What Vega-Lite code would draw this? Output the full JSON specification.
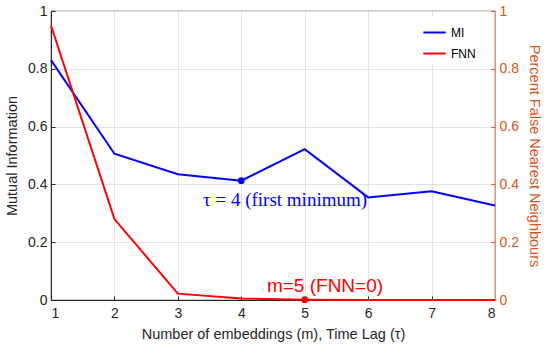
{
  "$schema": "https://vega.github.io/schema/vega-lite/v6.json",
  "width": 444,
  "height": 289,
  "autosize": {"type": "none"},
  "padding": {"left": 51, "top": 11, "right": 55, "bottom": 53},
  "background": "white",
  "config": {
    "font": "Liberation Sans",
    "view": {"stroke": "#262626", "strokeWidth": 0.6},
    "axis": {
      "labelFont": "Liberation Sans",
      "titleFont": "Liberation Sans",
      "labelFontSize": 14,
      "titleFontSize": 14.5,
      "titleFontWeight": "normal",
      "labelColor": "#262626",
      "titleColor": "#262626",
      "gridColor": "#e3e3e3",
      "domainColor": "#262626",
      "tickColor": "#262626"
    }
  },
  "datasets": {
    "series": [
      {"x": 1, "series": "MI", "value": 0.83},
      {"x": 2, "series": "MI", "value": 0.506},
      {"x": 3, "series": "MI", "value": 0.435},
      {"x": 4, "series": "MI", "value": 0.413},
      {"x": 5, "series": "MI", "value": 0.522},
      {"x": 6, "series": "MI", "value": 0.355},
      {"x": 7, "series": "MI", "value": 0.376},
      {"x": 8, "series": "MI", "value": 0.327},
      {"x": 1, "series": "FNN", "value": 0.95},
      {"x": 2, "series": "FNN", "value": 0.28},
      {"x": 3, "series": "FNN", "value": 0.022},
      {"x": 4, "series": "FNN", "value": 0.005},
      {"x": 5, "series": "FNN", "value": 0.001},
      {"x": 6, "series": "FNN", "value": 0.0},
      {"x": 7, "series": "FNN", "value": 0.0},
      {"x": 8, "series": "FNN", "value": 0.0}
    ]
  },
  "layer": [
    {
      "data": {"name": "series"},
      "transform": [{"filter": "datum.series === 'MI'"}],
      "layer": [
        {
          "mark": {"type": "line", "strokeWidth": 2},
          "encoding": {
            "x": {"field": "x", "type": "quantitative", "scale": {"domain": [1, 8], "nice": false},
              "axis": {"values": [1,2,3,4,5,6,7,8], "format": "d", "title": "Number of embeddings (m), Time Lag (τ)", "tickSize": -4, "labelPadding": 10, "titlePadding": 7, "grid": true}},
            "y": {"field": "value", "type": "quantitative", "scale": {"domain": [0, 1], "nice": false},
              "axis": {"values": [0, 0.2, 0.4, 0.6, 0.8, 1], "format": "~g", "title": "Mutual Information", "tickSize": -4, "labelPadding": 8, "titlePadding": 8, "grid": true}},
            "color": {"field": "series", "type": "nominal", "scale": {"domain": ["MI", "FNN"], "range": ["#0000ff", "#ff0000"]},
              "legend": {"orient": "none", "legendX": 368, "legendY": 6, "title": null, "symbolType": "stroke", "symbolSize": 500, "symbolStrokeWidth": 2, "labelFontSize": 12, "labelColor": "#000000", "rowPadding": 2, "fillColor": "white", "padding": 3}}
          }
        },
        {
          "transform": [{"filter": "datum.x === 4"}],
          "mark": {"type": "point", "filled": true, "size": 45, "opacity": 1, "color": "#0000ff"},
          "encoding": {
            "x": {"field": "x", "type": "quantitative"},
            "y": {"field": "value", "type": "quantitative"}
          }
        },
        {
          "data": {"values": [{"x": 4.69, "y": 0.346, "label": "τ = 4 (first minimum)"}]},
          "mark": {"type": "text", "font": "Liberation Serif", "fontSize": 19, "color": "#0000ff", "align": "center", "baseline": "middle"},
          "encoding": {
            "x": {"field": "x", "type": "quantitative"},
            "y": {"field": "y", "type": "quantitative"},
            "text": {"field": "label"}
          }
        }
      ]
    },
    {
      "data": {"name": "series"},
      "transform": [{"filter": "datum.series === 'FNN'"}],
      "layer": [
        {
          "mark": {"type": "line", "strokeWidth": 2},
          "encoding": {
            "x": {"field": "x", "type": "quantitative"},
            "y": {"field": "value", "type": "quantitative", "scale": {"domain": [0, 1], "nice": false},
              "axis": {"orient": "right", "values": [0, 0.2, 0.4, 0.6, 0.8, 1], "format": "~g", "title": "Percent False Nearest Neighbours", "grid": false, "tickSize": -4, "labelPadding": 8, "titlePadding": 8, "labelColor": "#D95319", "titleColor": "#D95319", "domainColor": "#E8926A", "tickColor": "#D95319"}},
            "color": {"field": "series", "type": "nominal"}
          }
        },
        {
          "transform": [{"filter": "datum.x === 5"}],
          "mark": {"type": "point", "filled": true, "size": 45, "opacity": 1, "color": "#ff0000"},
          "encoding": {
            "x": {"field": "x", "type": "quantitative"},
            "y": {"field": "value", "type": "quantitative"}
          }
        },
        {
          "data": {"values": [{"x": 5.32, "y": 0.05, "label": "m=5 (FNN=0)"}]},
          "mark": {"type": "text", "font": "Liberation Sans", "fontSize": 19, "color": "#ff0000", "align": "center", "baseline": "middle"},
          "encoding": {
            "x": {"field": "x", "type": "quantitative"},
            "y": {"field": "y", "type": "quantitative"},
            "text": {"field": "label"}
          }
        }
      ]
    }
  ],
  "resolve": {"scale": {"y": "independent"}}
}
